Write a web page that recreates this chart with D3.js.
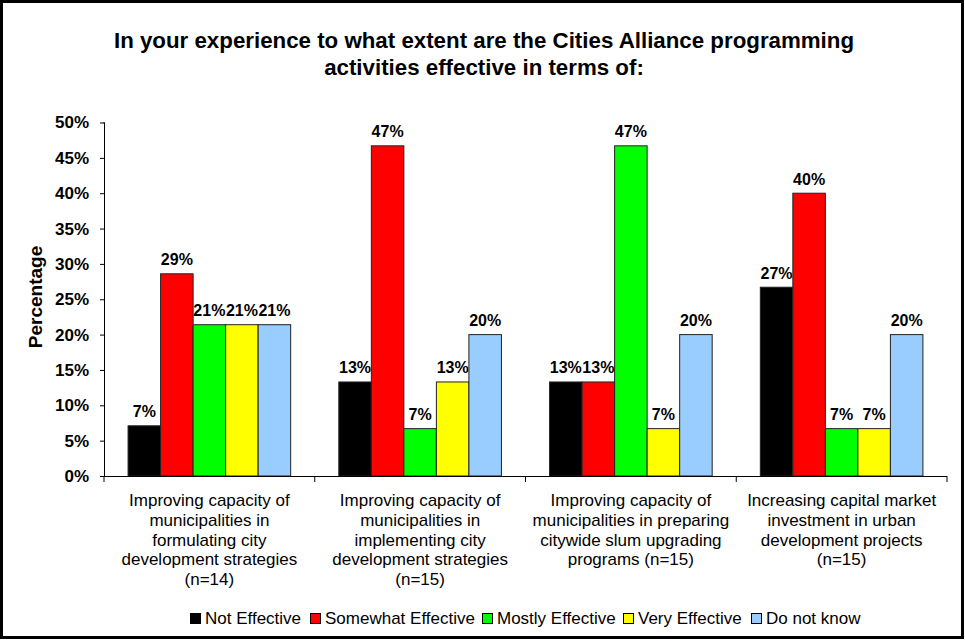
<!DOCTYPE html>
<html><head><meta charset="utf-8">
<script src="https://cdn.jsdelivr.net/npm/d3@7"></script>
<style>body{margin:0;background:#fff}svg{display:block}text{font-family:"Liberation Sans",Arial,sans-serif}</style>
</head><body>
<svg id="c" width="965" height="641"></svg>
<script>
const categories = [
  ["Improving capacity of","municipalities in","formulating city","development strategies","(n=14)"],
  ["Improving capacity of","municipalities in","implementing city","development strategies","(n=15)"],
  ["Improving capacity of","municipalities in preparing","citywide slum upgrading","programs (n=15)"],
  ["Increasing capital market","investment in urban","development projects","(n=15)"]
];
const series = ["Not Effective","Somewhat Effective","Mostly Effective","Very Effective","Do not know"];
const colors = ["#000000","#FF0000","#00FF00","#FFFF00","#99CCFF"];
const notEffective      = [7.1, 13.3, 13.3, 26.7];
const somewhatEffective = [28.6, 46.7, 13.3, 40.0];
const mostlyEffective   = [21.4, 6.7, 46.7, 6.7];
const veryEffective     = [21.4, 13.3, 6.7, 6.7];
const doNotKnow         = [21.4, 20.0, 20.0, 20.0];
const values = [notEffective, somewhatEffective, mostlyEffective, veryEffective, doNotKnow];
const yTicks = [0,5,10,15,20,25,30,35,40,45,50];
const title = ["In your experience to what extent are the Cities Alliance programming","activities effective in terms of:"];

(function(){
const svg = d3.select("#c");
svg.append("rect").attr("x",1.5).attr("y",1.5).attr("width",961).attr("height",636)
  .attr("fill","#fff").attr("stroke","#000").attr("stroke-width",3);

const pL=104, pR=947, pT=122.5, pB=476;
const x0 = d3.scaleBand().domain(d3.range(categories.length)).range([pL,pR]);
const x1 = d3.scaleBand().domain(d3.range(series.length)).range([0,x0.bandwidth()]).paddingOuter(0.74);
const y = d3.scaleLinear().domain([0,50]).range([pB,pT]);

svg.selectAll(".title").data(title).join("text")
  .attr("x",484).attr("y",(d,i)=>48+i*27).attr("text-anchor","middle")
  .attr("font-size",22.3).attr("font-weight","bold").text(d=>d);

const ya = svg.append("g").attr("transform",`translate(${pL},0)`)
  .call(d3.axisLeft(y).tickValues(yTicks).tickSize(4).tickPadding(11).tickFormat(d=>d+"%"));
ya.select(".domain").attr("stroke","#000").attr("d",`M-0.5,${pT}H0.5V${pB}`);
ya.selectAll(".tick line").attr("stroke","#000");
ya.selectAll(".tick text").attr("font-size",17).attr("font-weight","bold").attr("fill","#000")
  .attr("font-family","Liberation Sans, Arial, sans-serif");

svg.append("text").attr("transform","translate(42,297) rotate(-90)").attr("text-anchor","middle")
  .attr("font-size",19).attr("font-weight","bold").text("Percentage");

const g = svg.append("g");
categories.forEach((c,ci)=>{
  series.forEach((s,si)=>{
    const v = values[si][ci];
    const bx = x0(ci)+x1(si);
    g.append("rect").attr("x",bx).attr("y",y(v)).attr("width",x1.bandwidth()).attr("height",pB-y(v))
      .attr("fill",colors[si]).attr("stroke","#222").attr("stroke-width",1);
    g.append("text").attr("x",bx+x1.bandwidth()/2).attr("y",y(v)-8.5).attr("text-anchor","middle")
      .attr("font-size",16).attr("font-weight","bold").text(Math.round(v)+"%");
  });
});

const xa = svg.append("g");
xa.append("line").attr("x1",pL).attr("x2",pR).attr("y1",pB+0.5).attr("y2",pB+0.5).attr("stroke","#000");
const bounds = [pL, ...categories.map((c,i)=>x0(i)+x0.bandwidth())];
xa.selectAll(".xt").data(bounds).join("line").attr("x1",d=>d).attr("x2",d=>d)
  .attr("y1",pB).attr("y2",pB+6).attr("stroke","#000");
categories.forEach((lines,ci)=>{
  svg.append("text").attr("text-anchor","middle").attr("font-size",17)
    .selectAll("tspan").data(lines).join("tspan")
    .attr("x",x0(ci)+x0.bandwidth()/2).attr("y",(d,i)=>506+i*19.8).text(d=>d);
});

const legX = [190, 310, 482, 623, 751];
const leg = svg.append("g");
series.forEach((s,i)=>{
  leg.append("rect").attr("x",legX[i]+0.5).attr("y",613.5).attr("width",10).attr("height",10)
    .attr("fill",colors[i]).attr("stroke","#000").attr("stroke-width",1);
  leg.append("text").attr("x",legX[i]+15).attr("y",624).attr("font-size",17).text(s);
});
})();
</script>
</body></html>
